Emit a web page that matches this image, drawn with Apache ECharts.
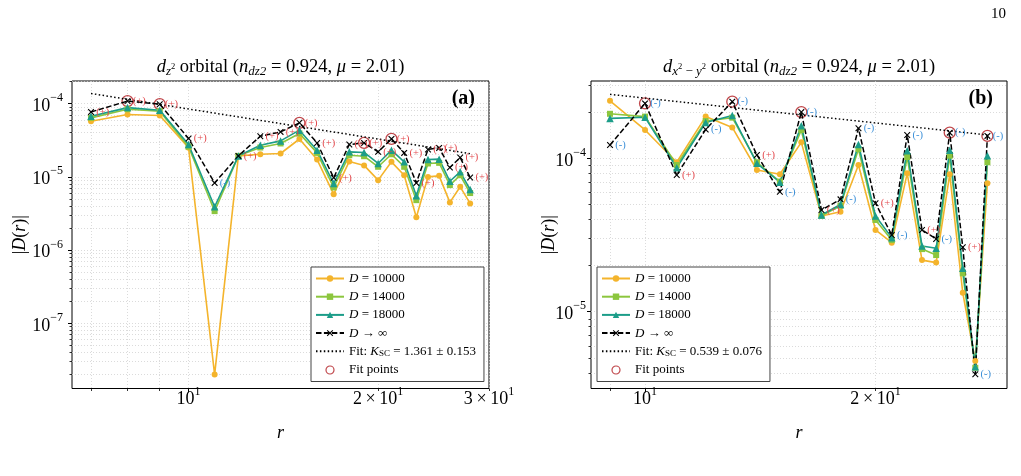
<!DOCTYPE html>
<html>
<head>
<meta charset="utf-8">
<script src="https://cdn.jsdelivr.net/npm/echarts@6.0.0/dist/echarts.min.js"></script>
<style>
  html, body { margin: 0; padding: 0; background: #fff; }
  #chart { width: 1021px; height: 476px; }
</style>
</head>
<body>
<div id="chart"></div>
<script>
const SERIF = "'Liberation Serif', 'DejaVu Serif', 'Times New Roman', serif";

// panel (a): d_z2 orbital
const rA = [7, 8, 9, 10, 11, 12, 13, 14, 15, 16, 17, 18, 19, 20, 21, 22, 23, 24, 25, 26, 27, 28];
const d10000A = [5.74e-5, 7.08e-5, 6.86e-5, 2.5e-5, 2.0e-8, 1.93e-5, 2.03e-5, 2.08e-5, 3.28e-5, 1.72e-5, 5.8e-6,
  1.62e-5, 1.43e-5, 9.0e-6, 1.6e-5, 1.05e-5, 2.8e-6, 9.97e-6, 1.03e-5, 4.47e-6, 7.3e-6, 4.33e-6];
const d14000A = [6.37e-5, 8.36e-5, 7.85e-5, 2.57e-5, 3.4e-6, 1.93e-5, 2.51e-5, 2.85e-5, 3.9e-5, 2.12e-5, 7.15e-6,
  1.97e-5, 1.91e-5, 1.37e-5, 2.03e-5, 1.37e-5, 4.8e-6, 1.52e-5, 1.55e-5, 7.7e-6, 1.05e-5, 6.0e-6];
const d18000A = [6.7e-5, 8.8e-5, 8.1e-5, 2.76e-5, 3.9e-6, 1.93e-5, 2.7e-5, 3.09e-5, 4.33e-5, 2.31e-5, 8.1e-6,
  2.19e-5, 2.15e-5, 1.52e-5, 2.31e-5, 1.6e-5, 5.5e-6, 1.72e-5, 1.74e-5, 8.7e-6, 1.17e-5, 6.7e-6];
const dInfA = [7.68e-5, 1.08e-4, 9.8e-5, 3.33e-5, 8.26e-6, 1.93e-5, 3.58e-5, 4.1e-5, 5.45e-5, 2.9e-5, 9.7e-6,
  2.76e-5, 2.9e-5, 2.19e-5, 3.29e-5, 2.12e-5, 8.26e-6, 2.36e-5, 2.48e-5, 1.34e-5, 1.83e-5, 9.8e-6];
const signA = ['+', '+', '+', '+', '-', '+', '+', '+', '+', '+', '+', '+', '+', '+', '+', '+', '+', '+', '+', '+', '+', '+'];
const fitPointRA = [8, 9, 15, 19, 21];
const fitLineRA = [7, 28];
const fitLineDA = [1.37e-4, 2.07e-5];
const fitNameA = 'Fit: K_SC = 1.361 ± 0.153';

// panel (b): d_x2-y2 orbital
const rB = [9, 10, 11, 12, 13, 14, 15, 16, 17, 18, 19, 20, 21, 22, 23, 24, 25, 26, 27, 28];
const d10000B = [2.37e-4, 1.53e-4, 9.42e-5, 1.87e-4, 1.59e-4, 8.39e-5, 7.87e-5, 1.27e-4, 4.21e-5, 4.48e-5,
  9.04e-5, 3.41e-5, 2.82e-5, 7.98e-5, 2.17e-5, 2.09e-5, 7.87e-5, 1.33e-5, 4.78e-6, 6.87e-5];
const d14000B = [1.95e-4, 1.87e-4, 9.04e-5, 1.75e-4, 1.84e-4, 9.42e-5, 7.05e-5, 1.53e-4, 4.22e-5, 4.91e-5,
  1.15e-4, 3.96e-5, 2.93e-5, 1.02e-4, 2.56e-5, 2.34e-5, 1.04e-4, 1.78e-5, 4.31e-6, 9.42e-5];
const d18000B = [1.82e-4, 1.85e-4, 8.68e-5, 1.71e-4, 1.9e-4, 9.27e-5, 6.98e-5, 1.63e-4, 4.27e-5, 5.0e-5,
  1.23e-4, 4.21e-5, 3.04e-5, 1.12e-4, 2.68e-5, 2.59e-5, 1.13e-4, 1.92e-5, 4.38e-6, 1.04e-4];
const dInfB = [1.22e-4, 2.28e-4, 7.79e-5, 1.54e-4, 2.34e-4, 1.05e-4, 6.05e-5, 2.0e-4, 4.6e-5, 5.4e-5,
  1.57e-4, 5.1e-5, 3.16e-5, 1.42e-4, 3.41e-5, 2.98e-5, 1.47e-4, 2.63e-5, 3.91e-6, 1.40e-4];
const signB = ['-', '-', '+', '-', '-', '+', '-', '-', '+', '-', '-', '+', '-', '-', '+', '-', '-', '+', '-', '-'];
const fitPointRB = [10, 13, 16, 25, 28];
const fitLineRB = [9, 28];
const fitLineDB = [2.61e-4, 1.42e-4];
const fitNameB = 'Fit: K_SC = 0.539 ± 0.076';

// ticks
const mantissas = [2, 3, 4, 5, 6, 7, 8, 9];
const xMajorA = [10];
const xMinorA = [7, 8, 9, 20, 30];
const xLabelValA = [10, 20, 30];
const xLabelTxtA = ['10^1', '2\u2009×\u200910^1', '3\u2009×\u200910^1'];
const yMajorA = [1e-7, 1e-6, 1e-5, 1e-4];
const yLabelTxtA = ['10^−7', '10^−6', '10^−5', '10^−4'];
const yDecadesA = [1e-8, 1e-7, 1e-6, 1e-5, 1e-4];
const xMajorB = [10];
const xMinorB = [9, 20];
const xLabelValB = [10, 20];
const xLabelTxtB = ['10^1', '2\u2009×\u200910^1'];
const yMajorB = [1e-5, 1e-4];
const yLabelTxtB = ['10^−5', '10^−4'];
const yDecadesB = [1e-6, 1e-5, 1e-4];

const seriesNames = ['D = 10000', 'D = 14000', 'D = 18000', 'D → ∞'];
const titleA = '{i|d}{sub|z}{ss|2}{t| orbital (}{i|n}{sub|dz2}{t| = 0.924, }{i|μ}{t| = 2.01)}';
const titleB = '{i|d}{sub|x}{ss|2}{subr| − }{sub|y}{ss|2}{t| orbital (}{i|n}{sub|dz2}{t| = 0.924, }{i|μ}{t| = 2.01)}';

const RANGE_A = { xMin: 6.53, xMax: 30.0, yMin: 1.29e-8, yMax: 2.03e-4 };
const RANGE_B = { xMin: 8.5, xMax: 29.7, yMin: 3.16e-6, yMax: 3.19e-4 };

const lineStyles = [
  { color: '#f4b42c', symbol: 'circle', size: 6 },
  { color: '#8cc63e', symbol: 'rect', size: 6 },
  { color: '#1c9d89', symbol: 'triangle', size: 7.5 },
];
const X_SYMBOL = 'path://M0,1.2L1.2,0L5,3.8L8.8,0L10,1.2L6.2,5L10,8.8L8.8,10L5,6.2L1.2,10L0,8.8L3.8,5Z';

const minorTicks = (decades, lo, hi) => {
  const out = [];
  decades.forEach((d) => mantissas.forEach((m) => {
    const v = m * d;
    if (v >= lo && v <= hi) out.push(v);
  }));
  return out;
};

const tickRich = {
  b: { fontFamily: SERIF, fontSize: 18, lineHeight: 23, verticalAlign: 'bottom', color: '#000' },
  s: { fontFamily: SERIF, fontSize: 12, lineHeight: 14, verticalAlign: 'top', color: '#000' },
};

const texLabel = (vals, txts) => (v) => {
  const i = vals.findIndex((t) => Math.abs(Math.log10(t) - Math.log10(v)) < 1e-6);
  if (i < 0) return '';
  const [m, e] = txts[i].split('^');
  return `{b|${m}}{s|${e}}`;
};

const axisPair = (dim, gridIndex, min, max, majors, minors, labelVals, labelTxts, name, nameGap, labelMargin) => {
  const gridLine = { show: true, lineStyle: { color: '#d2d2d2', width: 0.8, type: [1, 2] } };
  const base = {
    type: 'log', logBase: 10, gridIndex, min, max,
    position: dim === 'x' ? 'bottom' : 'left',
    axisLine: { show: false },
    minorTick: { show: false },
    minorSplitLine: { show: false },
  };
  const major = Object.assign({}, base, {
    axisTick: { show: true, inside: false, length: 4, customValues: majors, lineStyle: { color: '#000', width: 1 } },
    axisLabel: {
      show: true, customValues: labelVals, formatter: texLabel(labelVals, labelTxts),
      margin: labelMargin, rich: tickRich, color: '#000',
    },
    splitLine: gridLine,
    name, nameLocation: 'middle', nameGap, nameRotate: dim === 'x' ? 0 : 90,
    nameMoveOverlap: false,
    nameTextStyle: {
      fontFamily: SERIF, fontSize: 18, color: '#000', fontStyle: dim === 'x' ? 'italic' : 'normal',
      rich: { i: { fontFamily: SERIF, fontSize: 18, fontStyle: 'italic', color: '#000' } },
    },
  });
  const minor = Object.assign({}, base, {
    axisTick: { show: true, inside: false, length: 2.5, customValues: minors, lineStyle: { color: '#000', width: 0.8 } },
    axisLabel: { show: false },
    splitLine: gridLine,
  });
  return [major, minor];
};

const pairs = (xs, ys) => xs.map((x, i) => [x, ys[i]]);

const panelSeries = (axisIndex, r, sets, dInf, signs, fitR, fitLineR, fitLineD, fitName) => {
  const out = sets.map((vals, k) => ({
    type: 'line', name: seriesNames[k], xAxisIndex: axisIndex, yAxisIndex: axisIndex,
    data: pairs(r, vals), symbol: lineStyles[k].symbol, symbolSize: lineStyles[k].size,
    lineStyle: { color: lineStyles[k].color, width: 1.6 },
    itemStyle: { color: lineStyles[k].color },
    animation: false, emphasis: { disabled: true },
  }));
  out.push({
    type: 'line', name: seriesNames[3], xAxisIndex: axisIndex, yAxisIndex: axisIndex,
    data: pairs(r, dInf), symbol: X_SYMBOL, symbolSize: 6.5,
    lineStyle: { color: '#000', width: 1.5, type: [5.5, 2.4] },
    itemStyle: { color: '#000' },
    label: {
      show: true, position: 'right', distance: 2,
      formatter: (p) => (signs[p.dataIndex] === '+' ? '{p|(+)}' : '{m|(-)}'),
      rich: {
        p: { color: '#e3484c', fontFamily: SERIF, fontSize: 10.5 },
        m: { color: '#3a8fd8', fontFamily: SERIF, fontSize: 10.5 },
      },
    },
    animation: false, emphasis: { disabled: true },
  });
  out.push({
    type: 'line', name: fitName, xAxisIndex: axisIndex, yAxisIndex: axisIndex,
    data: pairs(fitLineR, fitLineD), symbol: 'none',
    lineStyle: { color: '#000', width: 1.5, type: [1.5, 2.4] },
    itemStyle: { color: '#000' },
    animation: false, emphasis: { disabled: true },
  });
  out.push({
    type: 'scatter', name: 'Fit points', xAxisIndex: axisIndex, yAxisIndex: axisIndex,
    data: fitR.map((x) => [x, dInf[r.indexOf(x)]]), symbol: 'circle', symbolSize: 11,
    itemStyle: { color: 'rgba(0,0,0,0)', borderColor: '#b0191e', borderWidth: 1.3 },
    animation: false, emphasis: { disabled: true },
  });
  return out;
};

const legendLabel = (name) => {
  let m = name.match(/^D(.*)$/);
  if (m) return `{i|D}{t|${m[1]}}`;
  m = name.match(/^Fit: K_SC(.*)$/);
  if (m) return `{t|Fit: }{i|K}{sub|SC}{t|${m[1]}}`;
  return `{t|${name}}`;
};

const legendFor = (left, fitName) => ({
  orient: 'vertical', left, top: 267,
  data: seriesNames.concat([
    { name: fitName, itemStyle: { color: 'rgba(0,0,0,0)', borderWidth: 0, opacity: 0 } },
    { name: 'Fit points', itemStyle: { borderWidth: 1.2 } },
  ]),
  formatter: legendLabel,
  itemWidth: 28, itemHeight: 8, itemGap: 5.2,
  padding: [5, 8, 5, 4],
  borderColor: '#444', borderWidth: 1, borderRadius: 0,
  backgroundColor: '#fff',
  selectedMode: false,
  textStyle: {
    fontFamily: SERIF, fontSize: 13, color: '#000',
    rich: {
      t: { fontFamily: SERIF, fontSize: 13, lineHeight: 14, color: '#000' },
      i: { fontFamily: SERIF, fontSize: 13, lineHeight: 14, fontStyle: 'italic', color: '#000' },
      sub: { fontFamily: SERIF, fontSize: 9, lineHeight: 9, verticalAlign: 'bottom', color: '#000' },
    },
  },
});

const titleRich = {
  t: { fontFamily: SERIF, fontSize: 18.5, lineHeight: 22, fill: '#000' },
  i: { fontFamily: SERIF, fontSize: 18.5, lineHeight: 22, fontStyle: 'italic', fill: '#000' },
  sub: { fontFamily: SERIF, fontSize: 13, lineHeight: 14, fontStyle: 'italic', verticalAlign: 'bottom', fill: '#000' },
  subr: { fontFamily: SERIF, fontSize: 13, lineHeight: 14, verticalAlign: 'bottom', fill: '#000' },
  ss: { fontFamily: SERIF, fontSize: 8.5, lineHeight: 8, verticalAlign: 'middle', fill: '#000' },
};

const xA = axisPair('x', 0, RANGE_A.xMin, RANGE_A.xMax, xMajorA, xMinorA, xLabelValA, xLabelTxtA, 'r', 36, -3);
const yA = axisPair('y', 0, RANGE_A.yMin, RANGE_A.yMax, yMajorA,
  minorTicks(yDecadesA, RANGE_A.yMin, RANGE_A.yMax), yMajorA, yLabelTxtA, '|{i|D}({i|r})|', 43, 9);
const xB = axisPair('x', 1, RANGE_B.xMin, RANGE_B.xMax, xMajorB, xMinorB, xLabelValB, xLabelTxtB, 'r', 36, -3);
const yB = axisPair('y', 1, RANGE_B.yMin, RANGE_B.yMax, yMajorB,
  minorTicks(yDecadesB, RANGE_B.yMin, RANGE_B.yMax), yMajorB, yLabelTxtB, '|{i|D}({i|r})|', 33, 5);

const chart = echarts.init(document.getElementById('chart'));
chart.setOption({
  animation: false,
  backgroundColor: '#fff',
  grid: [
    { left: 72, top: 81, width: 417, height: 307.5, show: true, borderColor: '#000', borderWidth: 1, containLabel: false, outerBoundsMode: 'none' },
    { left: 591, top: 81, width: 416, height: 307.5, show: true, borderColor: '#000', borderWidth: 1, containLabel: false, outerBoundsMode: 'none' },
  ],
  xAxis: [...xA, ...xB],
  yAxis: [...yA, ...yB],
  legend: [legendFor(311, fitNameA), legendFor(597, fitNameB)],
  series: [
    ...panelSeries(0, rA, [d10000A, d14000A, d18000A], dInfA, signA, fitPointRA, fitLineRA, fitLineDA, fitNameA),
    ...panelSeries(2, rB, [d10000B, d14000B, d18000B], dInfB, signB, fitPointRB, fitLineRB, fitLineDB, fitNameB),
  ],
  graphic: [
    { type: 'text', x: 280.5, y: 67, style: { text: titleA, rich: titleRich, align: 'center', verticalAlign: 'middle', fontFamily: SERIF, fontSize: 18.5, fill: '#000' } },
    { type: 'text', x: 799, y: 67, style: { text: titleB, rich: titleRich, align: 'center', verticalAlign: 'middle', fontFamily: SERIF, fontSize: 18.5, fill: '#000' } },
    { type: 'text', x: 475, y: 99, style: { text: '(a)', align: 'right', verticalAlign: 'middle', fontFamily: SERIF, fontSize: 20, fontWeight: 'bold', fill: '#000' } },
    { type: 'text', x: 993, y: 99, style: { text: '(b)', align: 'right', verticalAlign: 'middle', fontFamily: SERIF, fontSize: 20, fontWeight: 'bold', fill: '#000' } },
    { type: 'text', x: 1006, y: 14, style: { text: '10', align: 'right', verticalAlign: 'middle', fontFamily: SERIF, fontSize: 15, fill: '#000' } },
  ],
});
</script>
</body>
</html>
